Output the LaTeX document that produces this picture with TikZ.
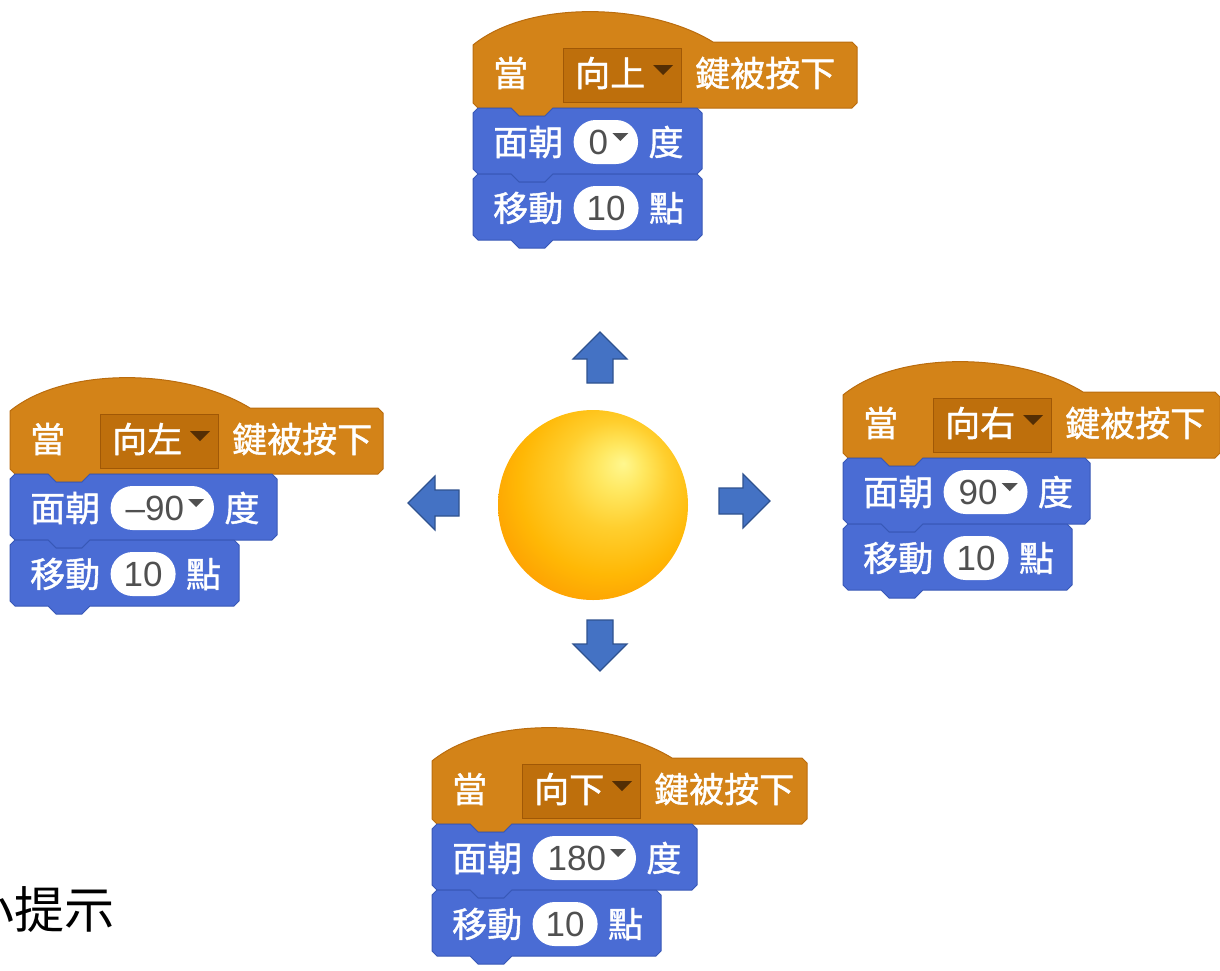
\documentclass[tikz,border=0pt]{standalone}
\usepackage{fontspec}
\usetikzlibrary{positioning}

\newfontfamily\blockfont[FakeBold=1.2]{Noto Sans CJK TC}
\newfontfamily\hintfont{Noto Sans CJK TC}
\newfontfamily\numfont{Liberation Sans}

\definecolor{eventorange}{RGB}{211,131,24}
\definecolor{eventedge}{RGB}{186,108,14}
\definecolor{menuorange}{RGB}{190,111,12}
\definecolor{menuedge}{RGB}{160,88,6}
\definecolor{menutip}{RGB}{84,46,4}
\definecolor{motionblue}{RGB}{74,108,212}
\definecolor{motionedge}{RGB}{56,88,182}
\definecolor{numgray}{RGB}{80,80,80}
\definecolor{arrowblue}{RGB}{68,114,196}
\definecolor{arrowedge}{RGB}{47,82,143}

% sun-like ball, light spot up and to the right
\pgfdeclareradialshading{sunball}{\pgfqpoint{8bp}{11bp}}{%
  rgb(0bp)=(1,0.97,0.56);
  rgb(6bp)=(1,0.91,0.38);
  rgb(14bp)=(1,0.81,0.18);
  rgb(24bp)=(1,0.72,0.02);
  rgb(36bp)=(0.99,0.57,0);
  rgb(50bp)=(0.98,0.5,0)}

\tikzset{
  hatblock/.style={fill=eventorange, draw=eventedge, line width=1pt},
  cmdblock/.style={fill=motionblue, draw=motionedge, line width=1pt},
  keymenu/.style={fill=menuorange, draw=menuedge, line width=1pt,
    minimum width=118pt, minimum height=54pt, inner sep=0pt},
  blocktext/.style={text=white, inner sep=0pt,
    font=\blockfont\fontsize{35}{40}\selectfont},
  numoval/.style={fill=white, rounded corners=22pt, minimum height=44pt,
    inner xsep=10pt, inner ysep=0pt, text=numgray,
    font=\numfont\fontsize{35}{40}\selectfont},
  dirarrow/.style={fill=arrowblue, draw=arrowedge, line width=1.2pt},
}

\begin{document}
\begin{tikzpicture}[x=1pt, y=-1pt]

\useasboundingbox (0,0) rectangle (1220,970);

% one script per arrow key: hat block and two motion blocks
\foreach \bx/\by/\dir/\bkey/\bdeg/\hw/\fw in {
    473/42/up/向上/0/384/229,
    10/408/left/向左/–90/373/267,
    843/392/right/向右/90/377/247,
    432/758/down/向下/180/375/265}
{
  % when key pressed
  \filldraw[hatblock] (\bx,\by+3) .. controls (\bx+55,\by-42) and (\bx+175,\by-40) .. (\bx+240,\by)
    -- (\bx+\hw-5,\by) -- (\bx+\hw,\by+5) -- (\bx+\hw,\by+61) -- (\bx+\hw-5,\by+66)
    -- (\bx+80,\by+66) -- (\bx+72,\by+74) -- (\bx+46,\by+74) -- (\bx+38,\by+66)
    -- (\bx+5,\by+66) -- (\bx,\by+61) -- cycle;
  \node[blocktext, anchor=west] (\dir-when) at (\bx+20,\by+31) {當};
  \node[keymenu, anchor=west] (\dir-menu) at (\bx+90,\by+33) {};
  \node[blocktext, anchor=west] (\dir-key) at (\bx+102,\by+31) {\bkey};
  \fill[menutip] (\bx+180,\by+23) -- (\bx+200,\by+23) -- (\bx+190,\by+33) -- cycle;
  \node[blocktext, anchor=west] (\dir-press) at (\bx+222,\by+31) {鍵被按下};

  % point in direction
  \filldraw[cmdblock] (\bx,\by+71) -- (\bx+5,\by+66) -- (\bx+38,\by+66) -- (\bx+46,\by+74)
    -- (\bx+72,\by+74) -- (\bx+80,\by+66) -- (\bx+\fw-5,\by+66) -- (\bx+\fw,\by+71)
    -- (\bx+\fw,\by+127) -- (\bx+\fw-5,\by+132) -- (\bx+80,\by+132) -- (\bx+72,\by+140)
    -- (\bx+46,\by+140) -- (\bx+38,\by+132) -- (\bx+5,\by+132) -- (\bx,\by+127) -- cycle;
  \node[blocktext, anchor=west] (\dir-turn) at (\bx+20,\by+100) {面朝};
  \node[numoval, right=10pt of \dir-turn] (\dir-face) {\kern5pt\bdeg\kern20pt};
  \fill[numgray] ([xshift=-26pt,yshift=9pt]\dir-face.east) -- ++(16,0) -- ++(-8,8) -- cycle;
  \node[blocktext, right=10pt of \dir-face] (\dir-unit) {度};

  % move steps
  \filldraw[cmdblock] (\bx,\by+137) -- (\bx+5,\by+132) -- (\bx+38,\by+132) -- (\bx+46,\by+140)
    -- (\bx+72,\by+140) -- (\bx+80,\by+132) -- (\bx+224,\by+132) -- (\bx+229,\by+137)
    -- (\bx+229,\by+193) -- (\bx+224,\by+198) -- (\bx+80,\by+198) -- (\bx+72,\by+206)
    -- (\bx+46,\by+206) -- (\bx+38,\by+198) -- (\bx+5,\by+198) -- (\bx,\by+193) -- cycle;
  \node[blocktext, anchor=west] (\dir-move) at (\bx+20,\by+166) {移動};
  \node[numoval, minimum width=65pt, right=10pt of \dir-move] (\dir-steps) {10};
  \node[blocktext, right=10pt of \dir-steps] (\dir-dots) {點};
}

% the ball
\node[circle, minimum size=190pt, inner sep=0pt, shade, shading=sunball] (ball) at (593,505) {};

% direction arrows round the ball
\foreach \ax/\ay/\ang in {600/383/90, 600/620/-90, 459/503/180, 719/501/0}
{
  \filldraw[dirarrow, shift={(\ax,\ay)}, rotate=\ang] (0,-13) -- (24,-13) -- (24,-27)
    -- (51,0) -- (24,27) -- (24,13) -- (0,13) -- cycle;
}

\node[anchor=base west, inner sep=0pt, font=\hintfont\fontsize{50}{56}\selectfont] (hint) at (-36,928) {小提示};

\end{tikzpicture}
\end{document}
